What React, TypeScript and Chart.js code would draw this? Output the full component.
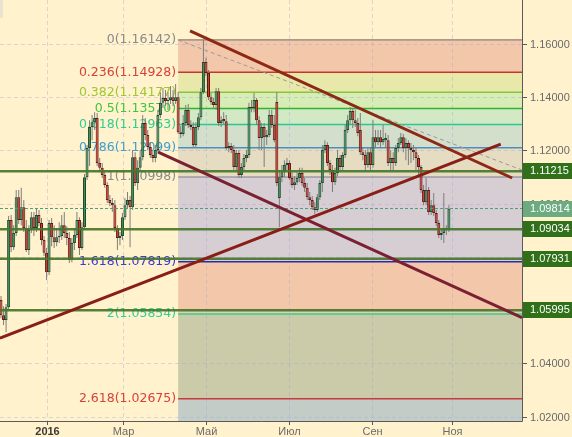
import React, { useEffect, useRef } from 'react';
import { Chart, registerables } from 'chart.js';

Chart.register(...registerables);

// ---- Candles (EUR/USD) ----
const OPEN = [
  1.0638,1.0581,1.0563,1.0611,1.0938,1.0836,1.0890,1.1024,1.0938,1.0986,
  1.0908,1.0826,1.0901,1.0949,1.0908,1.0957,1.0927,1.0863,1.0815,1.0742,
  1.0927,1.0874,1.0855,1.0874,1.0878,1.0919,1.0890,1.0871,1.0788,1.0852,
  1.0882,1.0938,1.0833,1.0911,1.1099,1.1209,1.1287,1.1305,1.1321,1.1152,
  1.1134,1.1107,1.1070,1.1013,1.1002,1.0994,1.0908,1.0871,1.0878,1.0949,
  1.0994,1.1013,1.0986,1.1174,1.1077,1.1134,1.1174,1.1302,1.1257,1.1212,
  1.1182,1.1171,1.1201,1.1332,1.1378,1.1396,1.1385,1.1389,1.1399,1.1385,
  1.1399,1.1268,1.1261,1.1302,1.1351,1.1295,1.1287,1.1220,1.1287,1.1324,
  1.1418,1.1531,1.1490,1.1399,1.1381,1.1370,1.1422,1.1302,1.1317,1.1309,
  1.1209,1.1216,1.1201,1.1137,1.1190,1.1107,1.1137,1.1171,1.1182,1.1362,
  1.1359,1.1389,1.1313,1.1246,1.1287,1.1249,1.1257,1.1332,1.1295,1.1381,
  1.1021,1.1099,1.1118,1.1145,1.1152,1.1096,1.1070,1.1080,1.1096,1.1115,
  1.1077,1.1059,1.1024,1.1013,1.0986,1.0976,1.1024,1.1077,1.1201,1.1220,
  1.1152,1.1126,1.1080,1.1115,1.1171,1.1137,1.1182,1.1276,1.1313,1.1347,
  1.1313,1.1302,1.1276,1.1193,1.1182,1.1145,1.1193,1.1145,1.1249,1.1230,
  1.1249,1.1230,1.1238,1.1238,1.1152,1.1171,1.1152,1.1209,1.1227,1.1249,
  1.1209,1.1227,1.1209,1.1201,1.1193,1.1171,1.1137,1.1051,1.1005,1.1051,
  1.0968,1.0994,1.0965,1.0927,1.0882,1.0890,1.0908,1.0901,
];
const HIGH = [
  1.0653,1.0615,1.0623,1.0953,1.0957,1.0919,1.1051,1.1051,1.1059,1.1013,
  1.0938,1.0919,1.0968,1.0968,1.0983,1.0976,1.0946,1.0878,1.0833,1.0938,
  1.0946,1.0919,1.0908,1.0930,1.0957,1.0968,1.0915,1.0893,1.0871,1.0908,
  1.0968,1.0949,1.0930,1.1111,1.1220,1.1313,1.1332,1.1343,1.1340,1.1171,
  1.1152,1.1126,1.1080,1.1032,1.1021,1.1013,1.0919,1.0893,1.0965,1.1021,
  1.1043,1.1028,1.1201,1.1193,1.1163,1.1201,1.1332,1.1321,1.1276,1.1230,
  1.1201,1.1220,1.1351,1.1418,1.1434,1.1426,1.1418,1.1441,1.1426,1.1449,
  1.1418,1.1291,1.1332,1.1370,1.1374,1.1313,1.1305,1.1305,1.1340,1.1434,
  1.1614,1.1547,1.1501,1.1415,1.1396,1.1434,1.1434,1.1328,1.1343,1.1332,
  1.1230,1.1227,1.1220,1.1201,1.1201,1.1152,1.1186,1.1201,1.1378,1.1389,
  1.1415,1.1396,1.1328,1.1302,1.1302,1.1276,1.1351,1.1351,1.1332,1.1418,
  1.1126,1.1145,1.1163,1.1171,1.1163,1.1118,1.1103,1.1118,1.1134,1.1134,
  1.1096,1.1077,1.1043,1.1028,1.1005,1.1036,1.1088,1.1220,1.1238,1.1230,
  1.1163,1.1145,1.1134,1.1201,1.1182,1.1193,1.1295,1.1332,1.1362,1.1359,
  1.1351,1.1321,1.1340,1.1209,1.1201,1.1209,1.1209,1.1313,1.1276,1.1276,
  1.1276,1.1295,1.1265,1.1257,1.1201,1.1193,1.1220,1.1246,1.1265,1.1261,
  1.1246,1.1238,1.1227,1.1220,1.1212,1.1182,1.1145,1.1070,1.1096,1.1062,
  1.1013,1.1040,1.0976,1.0938,1.0908,1.1040,1.0919,1.0994,
];
const LOW = [
  1.0570,1.0544,1.0517,1.0600,1.0818,1.0826,1.0878,1.0923,1.0919,1.0893,
  1.0818,1.0807,1.0890,1.0878,1.0893,1.0915,1.0844,1.0803,1.0713,1.0732,
  1.0840,1.0833,1.0840,1.0852,1.0863,1.0871,1.0844,1.0777,1.0780,1.0826,
  1.0871,1.0807,1.0826,1.0901,1.1088,1.1141,1.1238,1.1276,1.1141,1.1118,
  1.1096,1.1059,1.1002,1.0990,1.0968,1.0893,1.0826,1.0844,1.0863,1.0938,
  1.0983,1.0836,1.0976,1.1066,1.1051,1.1118,1.1163,1.1238,1.1201,1.1171,
  1.1155,1.1155,1.1190,1.1321,1.1359,1.1366,1.1351,1.1374,1.1366,1.1374,
  1.1261,1.1246,1.1253,1.1291,1.1284,1.1276,1.1212,1.1212,1.1276,1.1313,
  1.1411,1.1478,1.1389,1.1370,1.1359,1.1351,1.1291,1.1287,1.1298,1.1201,
  1.1193,1.1190,1.1126,1.1126,1.1096,1.1096,1.1126,1.1155,1.1171,1.1343,
  1.1343,1.1295,1.1201,1.1201,1.1137,1.1220,1.1249,1.1284,1.1230,1.1066,
  1.0911,1.1080,1.1099,1.1126,1.1088,1.1059,1.1051,1.1070,1.1080,1.1066,
  1.1043,1.1013,1.0994,1.0976,1.0961,1.0968,1.1013,1.1043,1.1190,1.1141,
  1.1107,1.1043,1.1070,1.1103,1.1126,1.1126,1.1171,1.1265,1.1298,1.1284,
  1.1287,1.1253,1.1182,1.1163,1.1126,1.1134,1.1126,1.1134,1.1209,1.1220,
  1.1209,1.1220,1.1209,1.1141,1.1126,1.1126,1.1141,1.1193,1.1220,1.1193,
  1.1163,1.1145,1.1152,1.1163,1.1126,1.1107,1.1040,1.0994,1.0994,1.0957,
  1.0957,1.0953,1.0915,1.0871,1.0863,1.0852,1.0882,1.0893,
];
const CLOSE = [
  1.0581,1.0563,1.0611,1.0938,1.0836,1.0890,1.1024,1.0938,1.0986,1.0908,
  1.0826,1.0901,1.0949,1.0908,1.0957,1.0927,1.0863,1.0815,1.0742,1.0927,
  1.0874,1.0855,1.0874,1.0878,1.0919,1.0890,1.0871,1.0788,1.0852,1.0882,
  1.0938,1.0833,1.0911,1.1099,1.1209,1.1287,1.1305,1.1321,1.1152,1.1134,
  1.1107,1.1070,1.1013,1.1002,1.0994,1.0908,1.0871,1.0878,1.0949,1.0994,
  1.1013,1.0986,1.1174,1.1077,1.1134,1.1174,1.1302,1.1257,1.1212,1.1182,
  1.1171,1.1201,1.1332,1.1378,1.1396,1.1385,1.1389,1.1399,1.1385,1.1399,
  1.1268,1.1261,1.1302,1.1351,1.1295,1.1287,1.1220,1.1287,1.1324,1.1418,
  1.1531,1.1490,1.1399,1.1381,1.1370,1.1422,1.1302,1.1313,1.1309,1.1209,
  1.1216,1.1201,1.1137,1.1190,1.1107,1.1137,1.1171,1.1182,1.1362,1.1359,
  1.1389,1.1313,1.1246,1.1287,1.1249,1.1257,1.1332,1.1295,1.1238,1.1077,
  1.1099,1.1118,1.1145,1.1152,1.1096,1.1070,1.1080,1.1096,1.1115,1.1077,
  1.1059,1.1024,1.1013,1.0986,1.0976,1.1024,1.1077,1.1201,1.1220,1.1152,
  1.1126,1.1080,1.1115,1.1171,1.1137,1.1182,1.1276,1.1313,1.1347,1.1313,
  1.1302,1.1265,1.1193,1.1182,1.1145,1.1193,1.1145,1.1249,1.1230,1.1249,
  1.1230,1.1242,1.1246,1.1152,1.1171,1.1152,1.1209,1.1227,1.1249,1.1209,
  1.1227,1.1209,1.1201,1.1193,1.1171,1.1137,1.1051,1.1005,1.1051,1.0968,
  1.0994,1.0965,1.0927,1.0882,1.0890,1.0908,1.0901,1.0981,
];

// ---- Axes ----
const X_MIN = -0.4;
const X_MAX = 205.9;
const Y_MIN = 1.0184;
const Y_MAX = 1.1764;
const MONTH_TICKS = [18.2, 48.2, 81.0, 113.8, 146.6, 178.3];
const MONTH_LABELS = ['2016', 'Мар', 'Май', 'Июл', 'Сен', 'Ноя'];
const PRICE_TICKS = [1.16, 1.14, 1.12, 1.10, 1.08, 1.06, 1.04, 1.02];

// ---- Fibonacci ----
const FIB_START = 70;
const FIB_RATIOS = ['0', '0.236', '0.382', '0.5', '0.618', '0.786', '1', '1.618', '2', '2.618'];
const FIB_PRICES = [1.16142, 1.14928, 1.14177, 1.1357, 1.12963, 1.12099, 1.10998, 1.07819, 1.05854, 1.02675];
const FIB_TEXT_COLORS = ['#8a8a8a', '#d9403a', '#9dc830', '#3cc83c', '#2ecf92', '#3d9fd0', '#8a8a8a', '#3b3bd2', '#2ecf9c', '#d9403a'];
const FIB_LINE_COLORS = ['#8a7f78', '#c8352d', '#8cc43a', '#2fb52f', '#27c98e', '#4a8fc0', '#7c7a8e', '#2a2aa8', '#2ccf94', '#c83a3a'];
const FIB_FILLS = ['#f3c7a9', '#e9e8ab', '#d8ecb5', '#d3e9c5', '#d4dfcb', '#e6dcc1', '#d6ced3', '#f3c8aa', '#cbcba9', '#c4ccc7'];

// ---- Support levels & lines ----
const SUPPORT_LEVELS = [1.11215, 1.09034, 1.07931, 1.05995];
const LAST_PRICE = 1.09814;
const UPPER_TREND = [{ x: 74.7, y: 1.1648 }, { x: 202.0, y: 1.1096 }];
const RISING_TREND = [{ x: -0.4, y: 1.0495 }, { x: 197.5, y: 1.1223 }];
const LOWER_TREND = [{ x: 62.1, y: 1.1193 }, { x: 205.9, y: 1.0572 }];
const DASHED_TREND = [{ x: 70, y: 1.1614 }, { x: 205.9, y: 1.1126 }];

const BG = '#fff2cd';
const GREEN_FILL = '#3e8f5f';
const GREEN_EDGE = '#1d4a2b';
const RED_FILL = '#d8372b';
const RED_EDGE = '#5c1a14';

const backPlugin = {
  id: 'backPlugin',
  beforeDraw(chart: any) {
    const { ctx } = chart;
    ctx.save();
    ctx.fillStyle = BG;
    ctx.fillRect(0, 0, chart.width, chart.height);
    ctx.restore();
  },
  beforeDatasetsDraw(chart: any) {
    const { ctx, chartArea: a, scales } = chart;
    const x = scales.x;
    const y = scales.y;
    ctx.save();
    const fx = x.getPixelForValue(FIB_START);
    const ys = FIB_PRICES.map((p) => y.getPixelForValue(p));
    // bands
    for (let i = 0; i < ys.length; i++) {
      const top = ys[i];
      const bottom = i < ys.length - 1 ? ys[i + 1] : a.bottom;
      ctx.fillStyle = FIB_FILLS[i];
      ctx.fillRect(fx, top, a.right - fx, bottom - top);
    }
    // grid
    ctx.strokeStyle = 'rgba(150,160,215,0.35)';
    ctx.lineWidth = 1;
    ctx.setLineDash([4, 3]);
    PRICE_TICKS.forEach((v) => {
      const py = Math.round(y.getPixelForValue(v)) + 0.5;
      ctx.beginPath();
      ctx.moveTo(a.left, py);
      ctx.lineTo(a.right, py);
      ctx.stroke();
    });
    MONTH_TICKS.forEach((v) => {
      const px = Math.round(x.getPixelForValue(v)) + 0.5;
      ctx.beginPath();
      ctx.moveTo(px, a.top);
      ctx.lineTo(px, a.bottom);
      ctx.stroke();
    });
    ctx.setLineDash([]);
    // fib lines
    ys.forEach((py, i) => {
      ctx.strokeStyle = FIB_LINE_COLORS[i];
      ctx.lineWidth = i === 0 || i === 6 ? 1.2 : 1.5;
      ctx.beginPath();
      ctx.moveTo(fx, py);
      ctx.lineTo(a.right, py);
      ctx.stroke();
    });
    // fib labels
    ctx.font = '12.5px "DejaVu Sans"';
    ctx.textAlign = 'right';
    ctx.textBaseline = 'middle';
    ys.forEach((py, i) => {
      ctx.fillStyle = FIB_TEXT_COLORS[i];
      ctx.fillText(`${FIB_RATIOS[i]}(${FIB_PRICES[i].toFixed(5)})`, fx - 2, py);
    });
    // small widget remnant at top-left
    ctx.fillStyle = '#e9e2cf';
    ctx.fillRect(0, 0, 3, 18);
    ctx.restore();
  },
  afterDatasetsDraw(chart: any) {
    const { ctx, chartArea: a, scales } = chart;
    const x = scales.x;
    const y = scales.y;
    ctx.save();
    ctx.strokeStyle = '#5a5a5a';
    ctx.lineWidth = 1;
    ctx.beginPath();
    ctx.moveTo(a.right + 0.5, 0);
    ctx.lineTo(a.right + 0.5, a.bottom + 0.5);
    ctx.lineTo(a.left, a.bottom + 0.5);
    ctx.stroke();
    // right ticks + labels
    ctx.font = '11px "Liberation Sans"';
    ctx.textAlign = 'left';
    ctx.textBaseline = 'middle';
    PRICE_TICKS.forEach((v) => {
      const py = Math.round(y.getPixelForValue(v)) + 0.5;
      ctx.beginPath();
      ctx.moveTo(a.right, py);
      ctx.lineTo(a.right + 5, py);
      ctx.stroke();
      ctx.fillStyle = '#6a6a6a';
      ctx.fillText(v.toFixed(5), a.right + 8, py);
    });
    // bottom ticks + labels
    ctx.textAlign = 'center';
    MONTH_TICKS.forEach((v, i) => {
      const px = Math.round(x.getPixelForValue(v)) + 0.5;
      ctx.beginPath();
      ctx.moveTo(px, a.bottom);
      ctx.lineTo(px, a.bottom + 4);
      ctx.stroke();
      ctx.font = i === 0 ? 'bold 11px "Liberation Sans"' : '11px "Liberation Sans"';
      ctx.fillStyle = i === 0 ? '#3a3a3a' : '#6a6a6a';
      ctx.fillText(MONTH_LABELS[i], px, a.bottom + 11);
    });
    // price boxes
    ctx.font = '11px "Liberation Sans"';
    ctx.textAlign = 'left';
    const box = (v: number, color: string) => {
      const py = y.getPixelForValue(v);
      ctx.fillStyle = color;
      ctx.fillRect(a.right + 1, Math.round(py) - 8, chart.width - a.right - 1, 16);
      ctx.fillStyle = '#ffffff';
      ctx.fillText(v.toFixed(5), a.right + 8, py);
    };
    SUPPORT_LEVELS.forEach((v) => box(v, '#2f7019'));
    box(LAST_PRICE, '#6caa80');
    ctx.restore();
  },
};

export default function App() {
  const ref = useRef<HTMLCanvasElement>(null);
  useEffect(() => {
    document.body.style.margin = '0';
    const canvas = ref.current;
    if (!canvas) return;
    const idx = OPEN.map((_, i) => i);
    const wickData = idx.map((i) => ({ x: i, y: [LOW[i], HIGH[i]] }));
    const bodyData = idx.map((i) => ({ x: i, y: [OPEN[i], CLOSE[i]] }));
    const up = (c: any) => c.dataIndex != null && CLOSE[c.dataIndex] >= OPEN[c.dataIndex];
    const lineDs = (data: any[], color: string, width: number, order: number, dash: number[] = []) => ({
      type: 'line',
      data,
      borderColor: color,
      borderWidth: width,
      borderDash: dash,
      pointRadius: 0,
      fill: false,
      tension: 0,
      order,
      clip: 0,
    });
    const hline = (v: number) => [{ x: X_MIN, y: v }, { x: X_MAX, y: v }];
    const chart = new Chart(canvas, {
      type: 'bar',
      data: {
        datasets: [
          lineDs(UPPER_TREND, '#8d2814', 3, 0),
          lineDs(RISING_TREND, '#891e16', 3, 0),
          lineDs(LOWER_TREND, '#7b1f33', 3, 0),
          lineDs(DASHED_TREND, '#9a9a9a', 1, 1, [4, 3]),
          ...SUPPORT_LEVELS.map((v) => lineDs(hline(v), 'rgba(72,118,42,0.92)', 2.5, 2)),
          lineDs(hline(LAST_PRICE), '#4c9f78', 1, 2, [3, 2]),
          {
            type: 'bar',
            data: bodyData,
            order: 5,
            grouped: false,
            barThickness: 3,
            backgroundColor: (c: any) => (up(c) ? GREEN_FILL : RED_FILL),
            borderColor: (c: any) => (up(c) ? GREEN_EDGE : RED_EDGE),
            borderWidth: 1,
            borderSkipped: false,
            inflateAmount: 0,
          },
          {
            type: 'bar',
            data: wickData,
            order: 6,
            grouped: false,
            barThickness: 1,
            backgroundColor: '#7d7d7d',
            borderWidth: 0,
            inflateAmount: 0,
          },
        ] as any,
      },
      options: {
        responsive: false,
        animation: false,
        devicePixelRatio: 1,
        events: [],
        layout: { padding: { left: 0, top: 0, right: 50, bottom: 16 } },
        plugins: { legend: { display: false }, tooltip: { enabled: false } },
        scales: {
          x: { type: 'linear', min: X_MIN, max: X_MAX, display: false, offset: false },
          y: { type: 'linear', min: Y_MIN, max: Y_MAX, display: false, beginAtZero: false },
        },
      } as any,
      plugins: [backPlugin],
    });
    return () => chart.destroy();
  }, []);
  return (
    <div style={{ width: 572, height: 437 }}>
      <canvas ref={ref} width={572} height={437} style={{ display: 'block', width: 572, height: 437 }} />
    </div>
  );
}
